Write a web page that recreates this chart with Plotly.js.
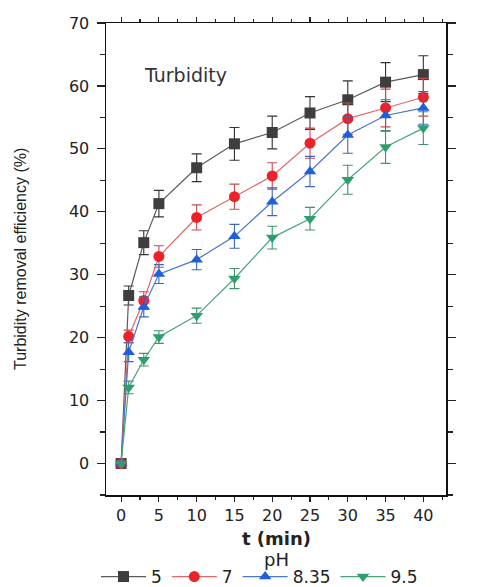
<!DOCTYPE html>
<html>
<head>
<meta charset="utf-8">
<script src="https://cdn.plot.ly/plotly-3.0.1.min.js"></script>
<style>html,body{margin:0;padding:0;background:#fff;}#chart{width:477px;height:587px;}</style>
</head>
<body>
<div id="chart"></div>
<script>
const t = [0, 1, 3, 5, 10, 15, 20, 25, 30, 35, 40];
const seriesNames = ["5", "7", "8.35", "9.5"];
const pH5 = [0, 26.7, 35.1, 41.3, 47.0, 50.8, 52.6, 55.7, 57.8, 60.6, 61.8];
const pH5err = [0, 1.5, 1.9, 2.1, 2.2, 2.6, 2.6, 2.6, 3.0, 3.1, 3.0];
const pH7 = [0, 20.2, 25.9, 32.9, 39.1, 42.4, 45.7, 50.9, 54.8, 56.5, 58.2];
const pH7err = [0, 1.0, 1.4, 1.7, 2.0, 2.0, 2.1, 2.4, 2.5, 3.0, 3.0];
const pH835 = [0, 17.7, 24.9, 30.1, 32.4, 36.1, 41.6, 46.4, 52.2, 55.3, 56.5];
const pH835err = [0, 1.5, 1.6, 1.5, 1.6, 1.9, 2.2, 2.4, 2.9, 2.5, 2.6];
const pH95 = [0, 12.1, 16.5, 20.1, 23.5, 29.4, 35.9, 38.9, 45.1, 50.3, 53.3];
const pH95err = [0, 1.0, 1.0, 1.0, 1.2, 1.6, 1.8, 1.8, 2.3, 2.6, 2.6];
const xTicks = [0, 5, 10, 15, 20, 25, 30, 35, 40];
const yTicks = [0, 10, 20, 30, 40, 50, 60, 70];

const markerColors = ["#3e3e3e", "#ec2228", "#1f5fd8", "#2b9f6c"];
const lineColors = ["#5a5a5a", "#e06868", "#4a76cc", "#4aa57a"];
const errColors = ["#333333", "#c84a4a", "#3d68bb", "#3f9469"];
const symbols = ["square", "circle", "triangle-up", "triangle-down"];
const ys = [pH5, pH7, pH835, pH95];
const errs = [pH5err, pH7err, pH835err, pH95err];

const font = "DejaVu Sans, Liberation Sans, Arial, sans-serif";
const traces = ys.map((y, i) => ({
  x: t, y: y, name: seriesNames[i], type: "scatter", mode: "lines+markers",
  line: {color: lineColors[i], width: 1.2},
  marker: {symbol: symbols[i], size: 11, color: markerColors[i]},
  error_y: {type: "data", array: errs[i], visible: true, color: errColors[i], thickness: 1.1, width: 5}
}));

const layout = {
  width: 477, height: 587,
  margin: {l: 106, r: 31, t: 23, b: 92},
  paper_bgcolor: "#fff", plot_bgcolor: "#fff",
  font: {family: font, size: 15, color: "#222"},
  showlegend: true,
  legend: {
    orientation: "h", x: 96/477, xanchor: "left", xref: "container",
    y: 1 - 577/587, yanchor: "middle", yref: "container",
    font: {size: 17, color: "#222"},
    itemwidth: 45, tracegroupgap: 0
  },
  xaxis: {
    range: [-2, 43], tickvals: xTicks,
    ticks: "outside", ticklen: 5, tickwidth: 1.2, tickcolor: "#222",
    minor: {dtick: 2.5, tick0: 0, ticks: "outside", ticklen: 3, tickcolor: "#222"},
    showline: true, linecolor: "#111", linewidth: 1.5, mirror: "ticks",
    showgrid: false, zeroline: false, automargin: false,
    tickfont: {size: 16, color: "#222"}
  },
  yaxis: {
    range: [-5, 70], tickvals: yTicks,
    ticks: "outside", ticklen: 8, tickwidth: 1.2, tickcolor: "#222",
    minor: {dtick: 5, tick0: 0, ticks: "outside", ticklen: 5, tickcolor: "#222"},
    showline: true, linecolor: "#111", linewidth: 1.5, mirror: "ticks",
    showgrid: false, zeroline: false, automargin: false, ticklabelstandoff: 4,
    tickfont: {size: 16, color: "#222"}
  },
  annotations: [
    {text: "Turbidity", xref: "paper", yref: "paper", x: 0.105, y: 0.89,
     xanchor: "left", yanchor: "middle", showarrow: false,
     font: {size: 19, color: "#333"}},
    {text: "<b>t (min)</b>", xref: "paper", yref: "paper", x: 0.5, y: -(538-495)/472,
     xanchor: "center", yanchor: "middle", showarrow: false,
     font: {size: 18, color: "#222"}},
    {text: "pH", xref: "paper", yref: "paper", x: 0.5, y: -(559-495)/472,
     xanchor: "center", yanchor: "middle", showarrow: false,
     font: {size: 18, color: "#222"}},
    {text: "Turbidity removal efficiency (%)", xref: "paper", yref: "paper",
     x: -(106-20)/340, y: 0.5, textangle: -90,
     xanchor: "center", yanchor: "middle", showarrow: false,
     font: {family: "Liberation Sans, Arial, sans-serif", size: 16, color: "#222"}}
  ]
};

Plotly.newPlot("chart", traces, layout, {displayModeBar: false, staticPlot: true});
</script>
</body>
</html>
